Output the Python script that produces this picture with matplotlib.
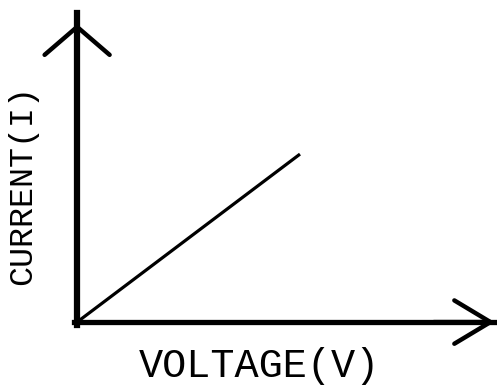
import matplotlib
matplotlib.use("Agg")
import matplotlib.pyplot as plt

# I-V characteristic of an ohmic conductor (straight line through origin)
voltage = [0, 5]
current = [0, 4]
x_label = "VOLTAGE(V)"
y_label = "CURRENT(I)"

fig = plt.figure(figsize=(4.97, 3.88), dpi=100)
ax = fig.add_axes([0, 0, 1, 1])

# axis limits chosen so the origin sits near the lower left like the sketch
ax.set_xlim(-1.73, 9.42)
ax.set_ylim(-1.57, 7.67)

ax.plot(voltage, current, color="black", lw=2.3, solid_capstyle="butt")

# axes drawn as thick spines with open arrow heads
for side in ["top", "right"]:
    ax.spines[side].set_visible(False)
ax.spines["left"].set_position(("data", 0))
ax.spines["bottom"].set_position(("data", 0))
ax.spines["left"].set_bounds(-0.06, 7.35)
ax.spines["bottom"].set_bounds(-0.06, 9.37)
ax.spines["left"].set_linewidth(4.5)
ax.spines["bottom"].set_linewidth(3.8)
ax.set_xticks([])
ax.set_yticks([])

ax.annotate("", xy=(0, 7.1), xytext=(0, 6.0),
            arrowprops=dict(arrowstyle="->,head_length=1.55,head_width=1.8",
                            lw=3.2, color="black", mutation_scale=13,
                            shrinkA=0, shrinkB=0))
ax.annotate("", xy=(9.37, 0), xytext=(8.0, 0),
            arrowprops=dict(arrowstyle="->,head_length=2.0,head_width=1.2",
                            lw=3.2, color="black", mutation_scale=13,
                            shrinkA=0, shrinkB=0))

fig.text(259 / 497, 1 - 366 / 388, x_label, ha="center", va="center",
         fontsize=29, family="Liberation Mono")
fig.text(23 / 497, 1 - 185 / 388, y_label, ha="center", va="center",
         rotation=90, fontsize=24, family="Liberation Mono")

fig.savefig("out.png", dpi=100)
